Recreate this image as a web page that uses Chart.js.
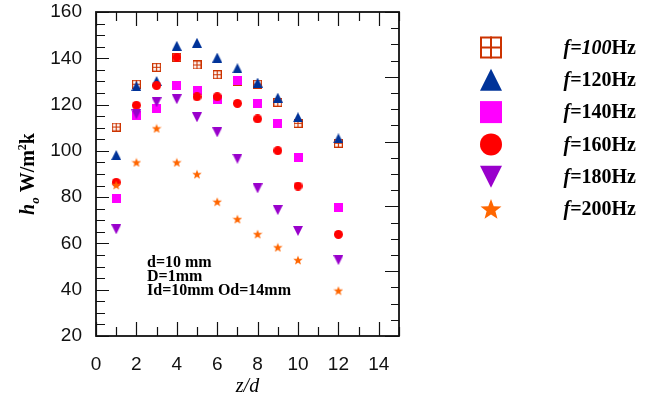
<!DOCTYPE html>
<html>
<head>
<meta charset="utf-8">
<script src="https://cdn.jsdelivr.net/npm/chart.js@4"></script>
<style>
  body { margin: 0; background: #fff; }
</style>
</head>
<body>
<canvas id="chartHo" width="647" height="397"></canvas>
<script>
// z/d positions and h_o values for each frequency
const zd = [1, 2, 3, 4, 5, 6, 7, 8, 9, 10, 12];
const f100 = [110.3, 128.8, 136.1, 140.4, 137.1, 132.9, 130, 128.8, 121, 111.9, 103.3];
const f120 = [98.2, 128, 130.2, 145.4, 146.7, 140.3, 135.7, 129.5, 123, 114.5, 105.4];
const f140 = [79.2, 115.2, 118.1, 128.2, 126, 122.4, 130.2, 120.5, 111.9, 97, 75.6];
const f160 = [86.4, 119.7, 128.2, 140.4, 123.4, 123.4, 120.5, 113.8, 100.1, 84.8, 63.9];
const f180 = [66.1, 115.8, 121, 122.3, 114.5, 108, 96.6, 83.8, 74.4, 65.4, 52.8];
const f200 = [85.2, 95, 109.7, 95, 89.9, 78, 70.5, 64, 58.3, 52.8, 39.6];

const seriesNames = ['100', '120', '140', '160', '180', '200'];
const xTickLabels = [0, 2, 4, 6, 8, 10, 12, 14];
const yTickLabels = [20, 40, 60, 80, 100, 120, 140, 160];
const notes = ['d=10 mm', 'D=1mm', 'Id=10mm Od=14mm'];

const SERIF = '"Liberation Serif", "Times New Roman", serif';

// markers that Chart.js has no built-in style for
function drawMarker(ctx, kind, x, y, s, color) {
  ctx.save();
  ctx.fillStyle = color;
  ctx.strokeStyle = color;
  const h = s / 2;
  if (kind === 'gridsq') {
    const lw = Math.max(1.2, s / 11);
    ctx.fillStyle = '#fff';
    ctx.fillRect(x - h, y - h, s, s);
    ctx.lineWidth = lw;
    ctx.strokeRect(x - h + lw / 2, y - h + lw / 2, s - lw, s - lw);
    ctx.beginPath();
    ctx.moveTo(x, y - h); ctx.lineTo(x, y + h);
    ctx.moveTo(x - h, y); ctx.lineTo(x + h, y);
    ctx.stroke();
  } else if (kind === 'star') {
    ctx.beginPath();
    for (let i = 0; i < 10; i++) {
      const r = i % 2 ? h * 0.42 : h;
      const a = -Math.PI / 2 + i * Math.PI / 5;
      ctx.lineTo(x + r * Math.cos(a), y + r * Math.sin(a) + h * 0.08);
    }
    ctx.closePath();
    ctx.fill();
  } else if (kind === 'square') {
    ctx.fillRect(x - h, y - h, s, s);
  } else if (kind === 'circle') {
    ctx.beginPath();
    ctx.arc(x, y, h, 0, Math.PI * 2);
    ctx.fill();
  } else if (kind === 'tri' || kind === 'itri') {
    const d = kind === 'tri' ? 1 : -1;
    ctx.beginPath();
    ctx.moveTo(x, y - d * h);
    ctx.lineTo(x + h, y + d * h);
    ctx.lineTo(x - h, y + d * h);
    ctx.closePath();
    ctx.fill();
  }
  ctx.restore();
}

function markerCanvas(kind, s, color) {
  const c = document.createElement('canvas');
  c.width = s; c.height = s;
  drawMarker(c.getContext('2d'), kind, s / 2, s / 2, s, color);
  return c;
}

const styles = [
  { kind: 'gridsq', color: '#cc3300', size: 9 },
  { kind: 'tri', color: '#003399', size: 10 },
  { kind: 'square', color: '#ff00ff', size: 9 },
  { kind: 'circle', color: '#ff0000', size: 9 },
  { kind: 'itri', color: '#9900cc', size: 10 },
  { kind: 'star', color: '#ff6600', size: 10 }
];
const values = [f100, f120, f140, f160, f180, f200];

const datasets = values.map((vals, i) => ({
  label: 'f=' + seriesNames[i] + 'Hz',
  data: zd.map((z, j) => ({ x: z, y: vals[j] })),
  pointStyle: markerCanvas(styles[i].kind, styles[i].size, styles[i].color),
  pointRadius: 5,
  showLine: false,
  order: 6 - i
}));

// frame, inward ticks, titles, notes and legend
const decor = {
  id: 'decor',
  afterDraw(chart) {
    const ctx = chart.ctx;
    const a = chart.chartArea;
    const xs = chart.scales.x, ys = chart.scales.y;
    ctx.save();
    ctx.strokeStyle = '#111';
    ctx.lineWidth = 1.2;
    ctx.beginPath();
    for (let v = 20; v <= 160; v += 5) {
      const y = Math.round(ys.getPixelForValue(v)) + 0.5;
      const len = v % 20 === 0 ? 13 : 9;
      ctx.moveTo(a.left, y); ctx.lineTo(a.left + len, y);
    }
    for (let v = 0; v <= 15; v++) {
      const x = Math.round(xs.getPixelForValue(v)) + 0.5;
      const len = v % 2 === 0 ? 14 : 9;
      ctx.moveTo(x, a.bottom); ctx.lineTo(x, a.bottom - len);
      ctx.moveTo(x, a.top); ctx.lineTo(x, a.top + len);
    }
    for (let k = 0; k <= 20; k++) {
      const y = Math.round(a.top + (a.bottom - a.top) * k / 20) + 0.5;
      const len = k % 4 === 0 ? 14 : 8;
      ctx.moveTo(a.right, y); ctx.lineTo(a.right - len, y);
    }
    ctx.stroke();
    ctx.lineWidth = 1.8;
    ctx.strokeRect(a.left, a.top, a.right - a.left, a.bottom - a.top);

    // y title: h_o W/m²k
    ctx.fillStyle = '#000';
    ctx.textBaseline = 'alphabetic';
    const parts = [
      { t: 'h', f: 'italic bold 20px ' + SERIF, dy: 0 },
      { t: 'o', f: 'italic bold 13px ' + SERIF, dy: 5 },
      { t: ' W/m', f: 'bold 20px ' + SERIF, dy: 0 },
      { t: '2', f: 'bold 12px ' + SERIF, dy: -8 },
      { t: 'k', f: 'bold 20px ' + SERIF, dy: 0 }
    ];
    let total = 0;
    parts.forEach(p => { ctx.font = p.f; p.w = ctx.measureText(p.t).width; total += p.w; });
    ctx.save();
    ctx.translate(34, 174);
    ctx.rotate(-Math.PI / 2);
    let cx = -total / 2;
    parts.forEach(p => { ctx.font = p.f; ctx.fillText(p.t, cx, p.dy); cx += p.w; });
    ctx.restore();

    // x title
    ctx.font = 'italic 20px ' + SERIF;
    ctx.textAlign = 'center';
    ctx.fillText('z/d', (a.left + a.right) / 2, 392);

    // notes
    ctx.font = 'bold 16px ' + SERIF;
    ctx.textAlign = 'left';
    ctx.textBaseline = 'middle';
    notes.forEach((n, i) => ctx.fillText(n, 147, 263 + i * 14));

    // legend
    chart.data.datasets.forEach((ds, i) => {
      const y = 47.5 + i * 32.3;
      drawMarker(ctx, styles[i].kind, 491, y, 22, styles[i].color);
      const segs = i === 0
        ? [{ t: 'f=100', f: 'italic bold 20px ' + SERIF }, { t: 'Hz', f: 'bold 20px ' + SERIF }]
        : [{ t: 'f', f: 'italic bold 20px ' + SERIF }, { t: '=' + seriesNames[i] + 'Hz', f: 'bold 20px ' + SERIF }];
      let w = 0;
      segs.forEach(s => { ctx.font = s.f; s.w = ctx.measureText(s.t).width; w += s.w; });
      let tx = 636 - w;
      ctx.textBaseline = 'middle';
      segs.forEach(s => { ctx.font = s.f; ctx.fillText(s.t, tx, y + 1); tx += s.w; });
    });
    ctx.restore();
  }
};

new Chart(document.getElementById('chartHo'), {
  type: 'scatter',
  data: { datasets },
  options: {
    responsive: false,
    animation: false,
    layout: { padding: { left: 0, top: 12, right: 248, bottom: 0 } },
    plugins: { legend: { display: false }, tooltip: { enabled: false } },
    scales: {
      x: {
        type: 'linear', min: 0, max: 15,
        afterBuildTicks: s => { s.ticks = xTickLabels.map(v => ({ value: v })); },
        afterFit: s => { s.height = 61; s.paddingLeft = 0; s.paddingRight = 0; },
        grid: { display: false, drawTicks: false },
        border: { display: false },
        ticks: { padding: 17, color: '#111', font: { family: '"Liberation Sans", Arial, sans-serif', size: 19 } }
      },
      y: {
        type: 'linear', min: 20, max: 160,
        afterBuildTicks: s => { s.ticks = yTickLabels.map(v => ({ value: v })); },
        afterFit: s => { s.width = 96; s.paddingTop = 0; s.paddingBottom = 0; },
        grid: { display: false, drawTicks: false },
        border: { display: false },
        ticks: { padding: 14, color: '#111', font: { family: '"Liberation Sans", Arial, sans-serif', size: 19 } }
      }
    }
  },
  plugins: [decor]
});
</script>
</body>
</html>
